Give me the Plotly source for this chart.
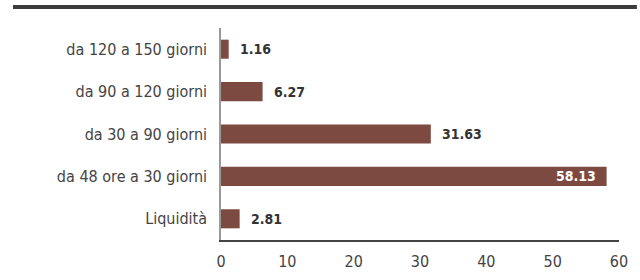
import plotly.graph_objects as go

categories = ["Liquidità", "da 48 ore a 30 giorni", "da 30 a 90 giorni", "da 90 a 120 giorni", "da 120 a 150 giorni"]
values = [2.81, 58.13, 31.63, 6.27, 1.16]
inside_flags = [False, True, False, False, False]
tick_vals = [0, 10, 20, 30, 40, 50, 60]

BAR = "#7d4a42"
FONT = "DejaVu Sans Condensed, DejaVu Sans, sans-serif"

fig = go.Figure()
fig.add_trace(go.Bar(
    y=categories, x=values, orientation="h",
    marker=dict(color=BAR, line=dict(width=0)),
    width=0.45, hoverinfo="skip",
))

for c, v, ins in zip(categories, values, inside_flags):
    fig.add_annotation(
        x=v, y=c, xref="x", yref="y",
        text=f"<b>{v:.2f}</b>", showarrow=False,
        xanchor="right" if ins else "left",
        xshift=-9 if ins else 9,
        font=dict(family=FONT, size=14, color="white" if ins else "#333333"),
    )

fig.add_shape(type="line", xref="paper", yref="paper",
              x0=-0.5226, x1=1.045, y0=1.0 + 21 / 212, y1=1.0 + 21 / 212,
              line=dict(color="#3c3c3c", width=4))

fig.update_layout(
    width=640, height=280,
    margin=dict(l=221, r=21, t=28, b=40, autoexpand=False),
    paper_bgcolor="white", plot_bgcolor="white",
    showlegend=False,
    xaxis=dict(range=[0, 60], tickvals=tick_vals, showgrid=False, zeroline=False,
               showline=True, linecolor="#444444", linewidth=1.5,
               tickfont=dict(family=FONT, size=16, color="#444444"),
               ticks="", ticklabelstandoff=6, fixedrange=True, automargin=False),
    yaxis=dict(showgrid=False, zeroline=False, showline=True, linecolor="#999999",
               linewidth=1.5, tickfont=dict(family=FONT, size=16, color="#444444"),
               ticks="", ticklabelstandoff=9, categoryorder="array",
               categoryarray=categories, fixedrange=True, automargin=False),
)

fig.write_html("out.html", config={"displayModeBar": False},
               post_script="document.body.style.margin='0px';")
